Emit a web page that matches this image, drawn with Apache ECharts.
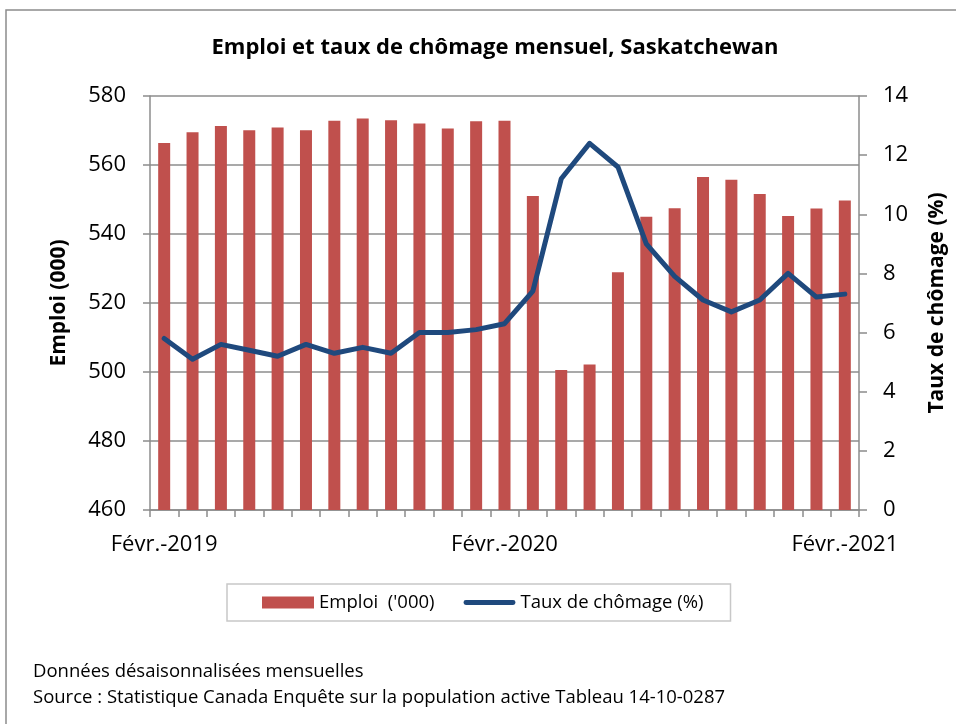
<!DOCTYPE html>
<html>
<head>
<meta charset="utf-8">
<script src="https://cdn.jsdelivr.net/npm/echarts@6/dist/echarts.min.js"></script>
<style>
  html, body { margin: 0; padding: 0; background: #fff; }
  #chart { width: 956px; height: 724px; }
</style>
</head>
<body>
<div id="chart"></div>
<script>
// mois de févr. 2019 à févr. 2021
const months = [
  "Févr.-2019", "Mars-2019", "Avr.-2019", "Mai-2019", "Juin-2019", "Juil.-2019",
  "Août-2019", "Sept.-2019", "Oct.-2019", "Nov.-2019", "Déc.-2019", "Janv.-2020",
  "Févr.-2020", "Mars-2020", "Avr.-2020", "Mai-2020", "Juin-2020", "Juil.-2020",
  "Août-2020", "Sept.-2020", "Oct.-2020", "Nov.-2020", "Déc.-2020", "Janv.-2021",
  "Févr.-2021"
];
const emploi = [
  566.4, 569.5, 571.3, 570.1, 570.9, 570.1, 572.8, 573.5, 573.0, 572.0, 570.6, 572.7,
  572.8, 551.0, 500.6, 502.2, 528.9, 545.0, 547.5, 556.5, 555.7, 551.6, 545.2, 547.4,
  549.7
];
const chomage = [
  5.8, 5.1, 5.6, 5.4, 5.2, 5.6, 5.3, 5.5, 5.3, 6.0, 6.0, 6.1,
  6.3, 7.4, 11.2, 12.4, 11.6, 9.0, 7.9, 7.1, 6.7, 7.1, 8.0, 7.2,
  7.3
];
const leftTicks = { min: 460, max: 580, interval: 20 };
const rightTicks = { min: 0, max: 14, interval: 2 };

const font = "'Open Sans', 'Noto Sans', sans-serif";
const gray = "#8c8c8c";
const red = "#c0504d";
const blue = "#1f497d";

const chart = echarts.init(document.getElementById("chart"), null, { renderer: "canvas" });

const option = {
  backgroundColor: "#fff",
  animation: false,
  title: {
    text: "Emploi et taux de chômage mensuel, Saskatchewan",
    left: 490,
    textAlign: "center",
    top: 32,
    textStyle: { fontFamily: font, fontSize: 22, fontWeight: "bold", color: "#000" }
  },
  graphic: [
    {
      type: "rect",
      shape: { x: 6, y: 10, width: 1000, height: 800 },
      style: { fill: "none", stroke: gray, lineWidth: 1.5 },
      silent: true
    },
    {
      type: "text",
      left: 33,
      top: 662,
      style: { text: "Données désaisonnalisées mensuelles", font: "18.5px " + font, fill: "#000" }
    },
    {
      type: "text",
      left: 33,
      top: 688,
      style: {
        text: "Source : Statistique Canada Enquête sur la population active Tableau 14-10-0287",
        font: "18.5px " + font, fill: "#000"
      }
    }
  ],
  legend: {
    left: 227,
    top: 584,
    padding: [9, 27, 9, 35],
    itemGap: 29,
    itemWidth: 52,
    itemHeight: 12,
    borderColor: "#c8c8c8",
    borderWidth: 1.5,
    textStyle: { fontFamily: font, fontSize: 18.5, color: "#000" },
    data: [
      { name: "Emploi  ('000)", icon: "rect" },
      {
        name: "Taux de chômage (%)",
        icon: "path://M2.5,0 L51.5,0 A2.5,2.5 0 0 1 51.5,5 L2.5,5 A2.5,2.5 0 0 1 2.5,0 Z",
        itemStyle: { color: blue }
      }
    ]
  },
  grid: { left: 150, right: 97, top: 96, bottom: 214 },
  xAxis: {
    type: "category",
    data: months,
    boundaryGap: true,
    axisLine: { lineStyle: { color: gray, width: 1.5 } },
    axisTick: { show: true, interval: 0, length: 7, lineStyle: { color: gray, width: 1.5 } },
    axisLabel: {
      interval: (i) => i % 12 === 0,
      margin: 24,
      fontFamily: font,
      fontSize: 22,
      color: "#000"
    }
  },
  yAxis: [
    {
      type: "value",
      min: leftTicks.min,
      max: leftTicks.max,
      interval: leftTicks.interval,
      name: "Emploi (000)",
      nameLocation: "middle",
      nameRotate: 90,
      nameGap: 80,
      nameTextStyle: { fontFamily: font, fontSize: 21, fontWeight: "bold", color: "#000" },
      axisLine: { show: true, lineStyle: { color: gray, width: 1.5 } },
      axisTick: { show: true, length: 7, lineStyle: { color: gray, width: 1.5 } },
      axisLabel: { margin: 24, fontFamily: font, fontSize: 22, color: "#000" },
      splitLine: { show: true, lineStyle: { color: gray, width: 1.5 } }
    },
    {
      type: "value",
      position: "right",
      min: rightTicks.min,
      max: rightTicks.max,
      interval: rightTicks.interval,
      name: "Taux de chômage (%)",
      nameLocation: "middle",
      nameRotate: 90,
      nameGap: 68,
      nameTextStyle: { fontFamily: font, fontSize: 21, fontWeight: "bold", color: "#000" },
      axisLine: { show: true, lineStyle: { color: gray, width: 1.5 } },
      axisTick: { show: true, length: 8, lineStyle: { color: gray, width: 1.5 } },
      axisLabel: { margin: 24, fontFamily: font, fontSize: 22, color: "#000" },
      splitLine: { show: false }
    }
  ],
  series: [
    {
      name: "Emploi  ('000)",
      type: "bar",
      yAxisIndex: 0,
      barWidth: 12,
      data: emploi,
      itemStyle: { color: red }
    },
    {
      name: "Taux de chômage (%)",
      type: "line",
      yAxisIndex: 1,
      data: chomage,
      symbol: "none",
      lineStyle: { color: blue, width: 5, cap: "round", join: "round" },
      itemStyle: { color: blue }
    }
  ]
};

chart.setOption(option);
</script>
</body>
</html>
